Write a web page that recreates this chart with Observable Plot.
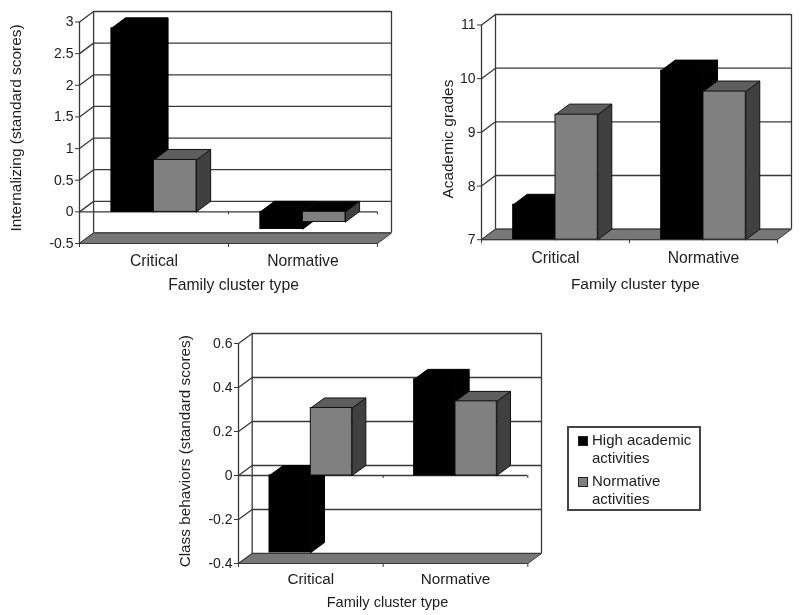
<!DOCTYPE html>
<html><head><meta charset="utf-8">
<script src="https://cdn.jsdelivr.net/npm/d3@7"></script>
<script src="https://cdn.jsdelivr.net/npm/@observablehq/plot@0.6"></script>
<style>
html,body{margin:0;padding:0;background:#fff;}
#page{position:relative;width:800px;height:615px;overflow:hidden;font-family:"Liberation Sans",Arial,sans-serif;color:#1c1c1c;}
#page svg{position:absolute;background:transparent;filter:blur(0.3px);}
#legend{position:absolute;left:567px;top:426px;width:130px;height:81px;border:2px solid #444;font-size:15px;line-height:18.4px;box-sizing:content-box;filter:blur(0.3px);}
#legend .row{position:absolute;left:23px;width:107px;}
#legend i{position:absolute;left:-14px;top:5px;width:10px;height:10px;border:1px solid #222;box-sizing:border-box;}
</style></head><body><div id="page"><div id="legend">
<div class="row" style="top:2.5px"><i style="background:#000"></i>High academic<br>activities</div>
<div class="row" style="top:43.5px"><i style="background:#808080"></i>Normative<br>activities</div>
</div></div>
<script>
const categories = ["Critical", "Normative"];
const seriesNames = ["High academic activities", "Normative activities"];
const xTitle = "Family cluster type";

const internalizingHigh = [2.9, -0.27];
const internalizingNormative = [0.82, -0.16];
const internalizingTicks = [-0.5, 0, 0.5, 1, 1.5, 2, 2.5, 3];

const gradesHigh = [7.65, 10.15];
const gradesNormative = [9.33, 9.76];
const gradesTicks = [7, 8, 9, 10, 11];

const behaviorsHigh = [-0.35, 0.437];
const behaviorsNormative = [0.307, 0.337];
const behaviorsTicks = [-0.4, -0.2, 0, 0.2, 0.4, 0.6];

const BAR = 2 / 7, DEPTH_X = 14 / 148;
const INK = "#383838", WALL = 1.3, FACES = [
  {front: "#000", top: "#000", side: "#000", stroke: "#000"},
  {front: "#808080", top: "#5e5e5e", side: "#404040", stroke: "#111"}
];

function panel({title, high, normative, ticks, left, top, width, frontH, depthPx, baseline, yTitleAt, yTitleDx, yTitleSize, catPad, catSize, xTitleAt, xTitleDy, xTitleSize}) {
  const lo = ticks[0], hi = ticks[ticks.length - 1];
  const dy = (hi - lo) * depthPx / frontH;     // depth, in data units of y
  const base = baseline ?? 0;
  const mL = 80, mR = 6, mT = 4, mB = 62;
  const quad = (pts, id) => pts.map(([x, y]) => ({x, y, id}));
  const marks = [];
  // back wall and side wall
  marks.push(Plot.ruleY(ticks, {y: d => d + dy, x1: DEPTH_X, x2: 2 + DEPTH_X, stroke: INK, strokeWidth: WALL}));
  marks.push(Plot.ruleX([DEPTH_X, 2 + DEPTH_X], {x: d => d, y1: lo + dy, y2: hi + dy, stroke: INK, strokeWidth: WALL}));
  marks.push(Plot.link(ticks, {x1: 0, x2: DEPTH_X, y1: d => d, y2: d => d + dy, stroke: INK, strokeWidth: WALL}));
  marks.push(Plot.ruleX([0], {y1: lo, y2: hi, stroke: INK, strokeWidth: WALL}));
  // floor
  marks.push(Plot.line(quad([[0, lo], [2, lo], [2 + DEPTH_X, lo + dy], [DEPTH_X, lo + dy], [0, lo]], "floor"),
    {x: "x", y: "y", z: "id", fill: "#777", stroke: INK, strokeWidth: 1}));
  // category axis at the zero plane, when it differs from the floor
  if (lo < base) {
    marks.push(Plot.ruleY([base], {x1: 0, x2: 2, stroke: INK, strokeWidth: WALL}));
    marks.push(Plot.axisX({anchor: "bottom", ticks: [1, 2], y: base, tickSize: 3, tickFormat: () => "", stroke: INK, label: null}));
  }
  // bars, series by series
  [high, normative].forEach((vals, s) => {
    const st = FACES[s];
    vals.forEach((v, c) => {
      const x1 = c + 0.5 - BAR + s * BAR, x2 = x1 + BAR;
      const t = Math.max(v, base), b = Math.min(v, base);
      const key = s + "-" + c;
      const topFill = v < base ? "#000" : st.top;
      marks.push(Plot.line(quad([[x2, b], [x2 + DEPTH_X, b + dy], [x2 + DEPTH_X, t + dy], [x2, t], [x2, b]], key),
        {x: "x", y: "y", z: "id", fill: st.side, stroke: st.stroke, strokeWidth: 1}));
      marks.push(Plot.line(quad([[x1, t], [x1 + DEPTH_X, t + dy], [x2 + DEPTH_X, t + dy], [x2, t], [x1, t]], key),
        {x: "x", y: "y", z: "id", fill: topFill, stroke: st.stroke, strokeWidth: 1}));
      marks.push(Plot.rect([{x1, x2, y1: b, y2: t}],
        {x1: "x1", x2: "x2", y1: "y1", y2: "y2", fill: st.front, stroke: st.stroke, strokeWidth: 1}));
    });
  });
  // axes
  marks.push(Plot.axisY({ticks, tickFormat: d => String(d), tickSize: 4, tickPadding: 2, stroke: INK, fontSize: 14, label: null, x: 0, anchor: "left"}));
  marks.push(Plot.ruleY([lo], {x1: 0, x2: 2, stroke: INK, strokeWidth: 1}));
  marks.push(Plot.axisX({ticks: [0, 1, 2], tickSize: 4, tickFormat: () => "", stroke: INK, label: null, y: lo}));
  marks.push(Plot.axisX({ticks: [0.5, 1.5], tickSize: 0, tickPadding: catPad, tickFormat: d => categories[Math.floor(d)], fontSize: catSize, label: null, y: lo}));
  // axis titles
  marks.push(Plot.text([title], {x: 0, y: yTitleAt, text: d => d, rotate: -90, dx: yTitleDx, fontSize: yTitleSize, fill: "#1c1c1c"}));
  marks.push(Plot.text([xTitle], {x: xTitleAt, y: lo, text: d => d, dy: xTitleDy, fontSize: xTitleSize, fill: "#1c1c1c"}));

  const plot = Plot.plot({
    width: mL + width + mR, height: mT + frontH + depthPx + mB,
    marginLeft: mL, marginRight: mR, marginTop: mT, marginBottom: mB,
    style: {background: "transparent", fontFamily: '"Liberation Sans",Arial,sans-serif', fontSize: "15px", color: "#1c1c1c", overflow: "visible"},
    x: {domain: [0, 2 + DEPTH_X], range: [mL, mL + width], axis: null},
    y: {domain: [lo, hi + dy], range: [mT + frontH + depthPx, mT], axis: null},
    marks
  });
  plot.style.left = (left - mL) + "px";
  plot.style.top = (top - mT) + "px";
  document.getElementById("page").appendChild(plot);
}

panel({title: "Internalizing (standard scores)", high: internalizingHigh, normative: internalizingNormative,
  ticks: internalizingTicks, left: 79, top: 11, width: 312, frontH: 221.5, depthPx: 10.5,
  yTitleAt: 1.325, yTitleDx: -63, yTitleSize: 15.4, catPad: 11, catSize: 15.7, xTitleAt: 1.034, xTitleDy: 41, xTitleSize: 15.7});
panel({title: "Academic grades", high: gradesHigh, normative: gradesNormative,
  ticks: gradesTicks, left: 481, top: 13.5, width: 310, frontH: 214.7, depthPx: 10.5, baseline: 7,
  yTitleAt: 8.875, yTitleDx: -33, yTitleSize: 15.4, catPad: 12, catSize: 15.7, xTitleAt: 1.04, xTitleDy: 44.3, xTitleSize: 15.5});
panel({title: "Class behaviors (standard scores)", high: behaviorsHigh, normative: behaviorsNormative,
  ticks: behaviorsTicks, left: 237.7, top: 333, width: 303, frontH: 220, depthPx: 10,
  yTitleAt: 0.11, yTitleDx: -53.7, yTitleSize: 15.3, catPad: 10, catSize: 15.3, xTitleAt: 1.03, xTitleDy: 38.7, xTitleSize: 14.6});
</script></body></html>
